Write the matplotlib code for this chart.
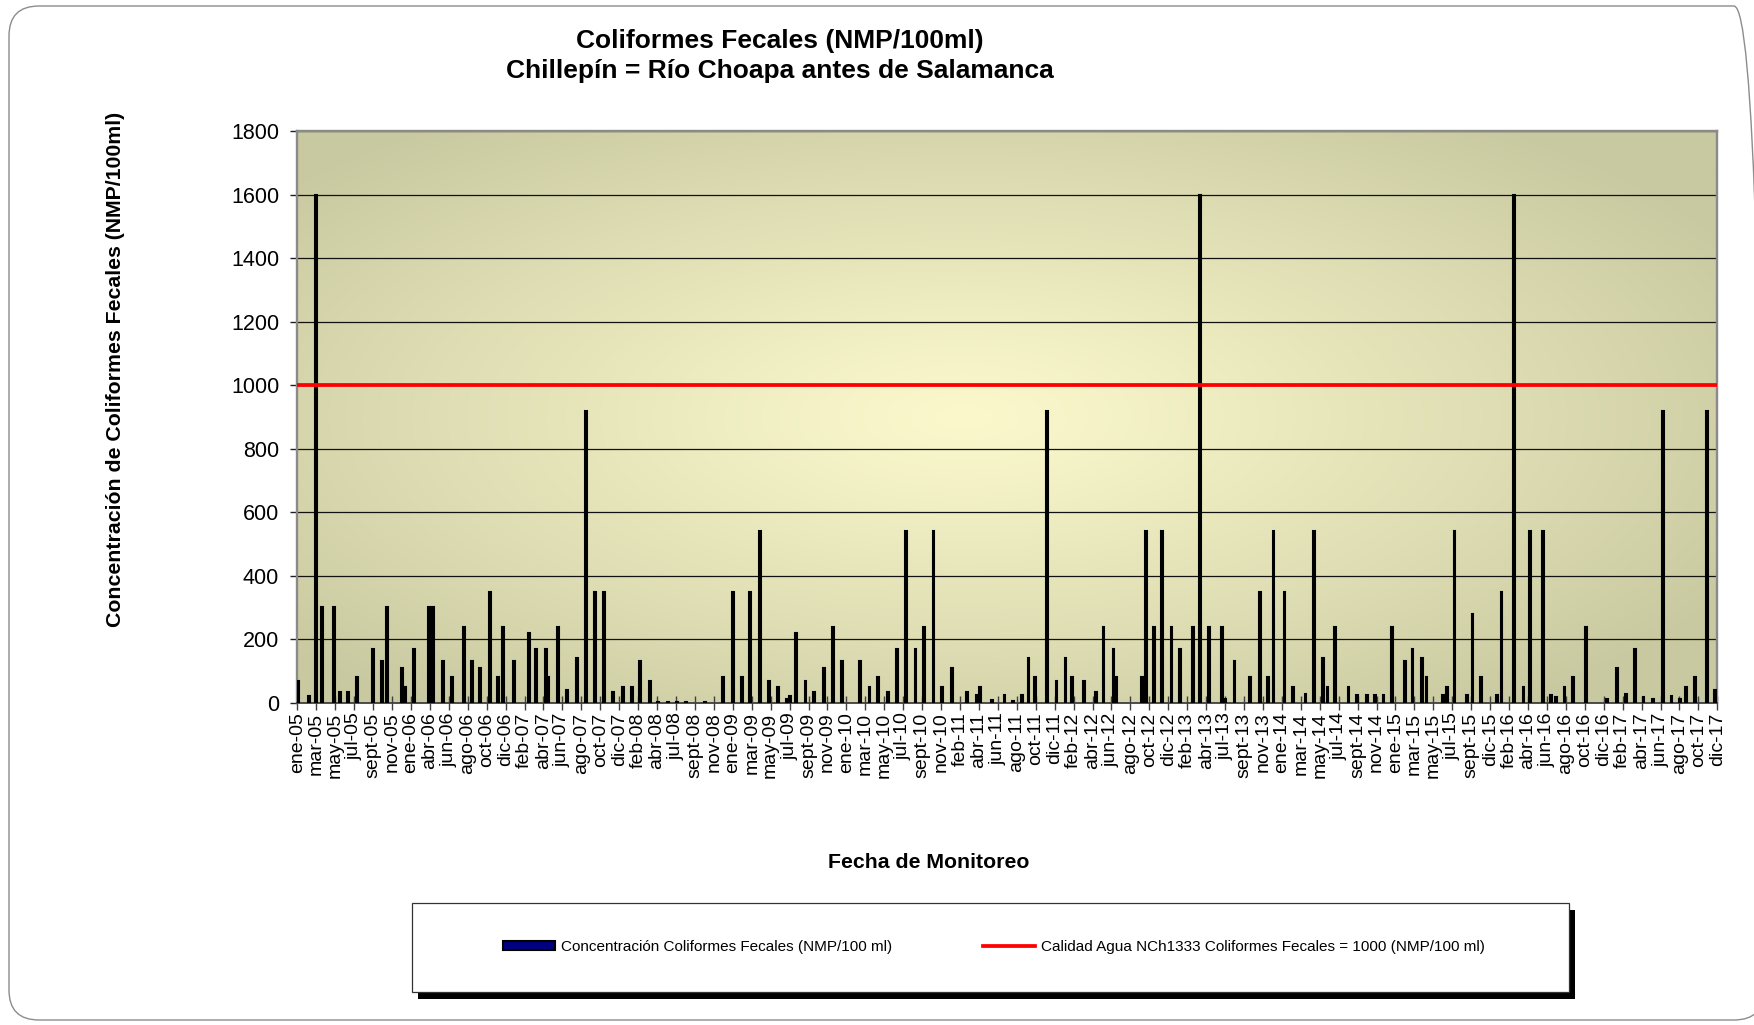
import numpy as np
import matplotlib
matplotlib.use("Agg")
import matplotlib.pyplot as plt
from matplotlib.patches import FancyBboxPatch, Rectangle

plt.rcParams['font.family'] = ['Liberation Sans', 'DejaVu Sans']

###################################
# Data
###################################

# category labels shown on the x axis (one per major tick)
fechas = ["ene-05", "mar-05", "may-05", "jul-05", "sept-05", "nov-05",
          "ene-06", "abr-06", "jun-06", "ago-06", "oct-06", "dic-06",
          "feb-07", "abr-07", "jun-07", "ago-07", "oct-07", "dic-07",
          "feb-08", "abr-08", "jul-08", "sept-08", "nov-08",
          "ene-09", "mar-09", "may-09", "jul-09", "sept-09", "nov-09",
          "ene-10", "mar-10", "may-10", "jul-10", "sept-10", "nov-10",
          "feb-11", "abr-11", "jun-11", "ago-11", "oct-11", "dic-11",
          "feb-12", "abr-12", "jun-12", "ago-12", "oct-12", "dic-12",
          "feb-13", "abr-13", "jul-13", "sept-13", "nov-13",
          "ene-14", "mar-14", "may-14", "jul-14", "sept-14", "nov-14",
          "ene-15", "mar-15", "may-15", "jul-15", "sept-15", "dic-15",
          "feb-16", "abr-16", "jun-16", "ago-16", "oct-16", "dic-16",
          "feb-17", "abr-17", "jun-17", "ago-17", "oct-17", "dic-17"]

# where each sample sits along the axis (in units of the labelled ticks)
pos = [0.05, 0.62, 0.97, 1.32, 1.92, 2.26, 2.69, 3.14, 4.01, 4.49,
       4.74, 5.52, 5.71, 6.18, 6.94, 7.15, 7.70, 8.17, 8.82, 9.24,
       9.64, 10.18, 10.62, 10.85, 11.46, 12.26, 12.61, 13.14, 13.24, 13.79,
       14.26, 14.76, 15.25, 15.73, 16.22, 16.69, 17.19, 17.68, 18.12, 18.62,
       19.07, 19.60, 20.07, 20.55, 21.54, 22.50, 23.00, 23.48, 23.93, 24.43,
       24.90, 25.39, 25.87, 26.01, 26.34, 26.84, 27.31, 27.81, 28.30, 28.79,
       29.73, 30.22, 30.69, 31.20, 31.66, 32.16, 32.65, 33.12, 33.60, 34.07,
       34.60, 35.36, 35.87, 36.08, 36.70, 37.35, 37.82, 38.27, 38.62, 38.95,
       39.59, 40.10, 40.57, 40.91, 41.57, 42.16, 42.58, 43.11, 43.25, 44.59,
       44.83, 45.27, 45.68, 46.17, 46.61, 47.32, 47.69, 48.15, 48.85, 49.02,
       49.50, 50.34, 50.86, 51.29, 51.56, 52.14, 52.61, 53.25, 53.71, 54.15,
       54.41, 54.83, 55.52, 55.96, 56.49, 56.93, 57.37, 57.83, 58.50, 58.90,
       59.38, 59.64, 60.49, 60.70, 61.12, 61.79, 62.07, 62.53, 63.34, 63.60,
       64.27, 64.76, 65.12, 65.79, 66.23, 66.48, 66.93, 67.38, 68.05, 69.18,
       69.70, 70.18, 70.63, 71.10, 71.61, 72.14, 72.58, 73.02, 73.34, 73.80,
       74.47, 74.87]

# fecal coliforms, NMP/100 ml
ncf = [70, 20, 1600, 300, 300, 33, 33, 80, 170, 130,
       300, 110, 50, 170, 300, 300, 130, 80, 240, 130,
       110, 350, 80, 240, 130, 220, 170, 170, 80, 240,
       40, 140, 920, 350, 350, 33, 49, 49, 130, 70,
       2, 2, 2, 2, 2, 80, 350, 80, 350, 540,
       70, 50, 13, 20, 220, 70, 33, 110, 240, 130,
       130, 50, 80, 33, 170, 540, 170, 240, 540, 50,
       110, 33, 23, 49, 8, 23, 4, 23, 140, 80,
       920, 70, 140, 80, 70, 33, 240, 170, 80, 80,
       540, 240, 540, 240, 170, 240, 1600, 240, 240, 13,
       130, 80, 350, 80, 540, 350, 49, 27, 540, 140,
       50, 240, 50, 23, 23, 23, 23, 240, 130, 170,
       140, 80, 23, 49, 540, 23, 280, 80, 23, 350,
       1600, 50, 540, 540, 23, 17, 49, 80, 240, 13,
       110, 27, 170, 17, 13, 920, 21, 13, 49, 80,
       920, 40]

limite = 1000   # NCh1333
yticks = list(range(0, 1801, 200))

###################################
# Figure
###################################
fig = plt.figure(figsize=(17.54, 10.25), dpi=100)

# slide frame with rounded corners
frame = FancyBboxPatch((0.09, 0.05), 17.55, 10.14,
                       boxstyle="round,pad=0,rounding_size=0.3",
                       transform=fig.dpi_scale_trans, fill=False,
                       ec="#8c8c8c", lw=1.0)
fig.add_artist(frame)

ax = fig.add_axes([0.1695, 0.3144, 0.8096, 0.5578])

# radial yellow/olive background of the plot area
gx, gy = np.meshgrid(np.linspace(0, 1, 400), np.linspace(0, 1, 300))
r = np.sqrt(((gx - 0.47) / 0.62) ** 2 + ((gy - 0.5) / 0.65) ** 2)
r = np.clip(r, 0, 1) ** 1.1
c0 = np.array([251, 249, 204]) / 255.0
c1 = np.array([201, 201, 161]) / 255.0
img = c0 * (1 - r[..., None]) + c1 * r[..., None]
ax.imshow(img, extent=[0, 1, 0, 1], transform=ax.transAxes,
          origin="lower", aspect="auto", zorder=0)

barras = ax.bar(pos, ncf, width=0.1, color="#000080", edgecolor="black",
                linewidth=1.5, zorder=3,
                label="Concentración Coliformes Fecales (NMP/100 ml)")
linea = ax.axhline(limite, color="#ff0000", lw=2.7, zorder=4,
                   label="Calidad Agua NCh1333 Coliformes Fecales = 1000 (NMP/100 ml)")

ax.set_xlim(0, len(fechas) - 1)
ax.set_ylim(0, 1800)
ax.set_xticks(range(len(fechas)))
ax.set_xticklabels(fechas, rotation=90, fontsize=14)
ax.set_yticks(yticks)
ax.set_yticklabels([str(v) for v in yticks], fontsize=15.5)
ax.tick_params(axis="x", direction="inout", length=10, width=1,
               color="#404040", pad=2)
ax.tick_params(axis="y", direction="out", length=5, width=1,
               color="#202020", pad=8)

ax.yaxis.grid(True, color="#111111", lw=0.9)
ax.set_axisbelow(True)
for side in ["left", "top", "right"]:
    ax.spines[side].set_color("#8a8a8a")
    ax.spines[side].set_linewidth(1.7)
ax.spines["bottom"].set_color("#404040")
ax.spines["bottom"].set_linewidth(1.3)

# titles and axis names
fig.text(0.4447, 0.960, "Coliformes Fecales (NMP/100ml)", ha="center",
         va="center", fontsize=19, fontweight="bold")
fig.text(0.4447, 0.9305, "Chillepín = Río Choapa antes de Salamanca",
         ha="center", va="center", fontsize=19, fontweight="bold")
fig.text(0.0656, 0.64, "Concentración de Coliformes Fecales (NMP/100ml)",
         rotation=90, ha="center", va="center", fontsize=15.3,
         fontweight="bold")
fig.text(0.5297, 0.159, "Fecha de Monitoreo", ha="center", va="center",
         fontsize=15.3, fontweight="bold")

# legend box with a hard black shadow
bx, by, bw, bh = 0.2349, 0.0325, 0.6596, 0.0868
fig.add_artist(Rectangle((bx + 6 / 1754, by - 7 / 1025), bw, bh,
                         transform=fig.transFigure, fc="black", ec="none",
                         zorder=1))
fig.add_artist(Rectangle((bx, by), bw, bh, transform=fig.transFigure,
                         fc="white", ec="#333333", lw=0.9, zorder=2))
fig.legend([barras, linea], [barras.get_label(), linea.get_label()],
           loc="center", bbox_to_anchor=(bx + bw / 2 + 0.002, by + bh / 2),
           ncol=2, frameon=False, fontsize=11, handlelength=3.4,
           handleheight=0.5, columnspacing=6.0, handletextpad=0.35)

plt.savefig("out.png", dpi=100)
